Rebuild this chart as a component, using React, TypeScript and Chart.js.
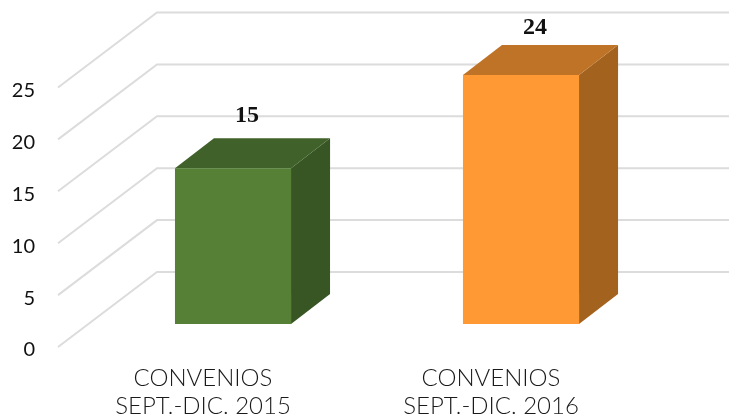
import React, { useEffect, useRef } from "react";
import { Chart, registerables } from "chart.js";

Chart.register(...registerables);

const categories = [
  ["CONVENIOS", "SEPT.-DIC. 2015"],
  ["CONVENIOS", "SEPT.-DIC. 2016"],
];
const convenios = [15, 24];
const frontColors = ["#558035", "#FF9933"];
const topColors = ["#406129", "#BF7326"];
const sideColors = ["#375623", "#A3631F"];
const yTicks = [0, 5, 10, 15, 20, 25];

const labelLift = [24, 18];

const scene3d = {
  id: "scene3d",
  beforeDatasetsDraw(chart: any) {
    const { ctx } = chart;
    const y = chart.scales.y;
    ctx.save();
    ctx.strokeStyle = "#DCDCDC";
    ctx.lineWidth = 2;
    yTicks.forEach((v) => {
      const p = y.getPixelForValue(v);
      ctx.beginPath();
      ctx.moveTo(58, p + 23);
      ctx.lineTo(157, p - 52);
      ctx.lineTo(729, p - 52);
      ctx.stroke();
    });
    const dx = 39;
    const dy = 30;
    chart.getDatasetMeta(0).data.forEach((bar: any, i: number) => {
      const l = bar.x - bar.width / 2;
      const r = bar.x + bar.width / 2;
      const t = bar.y;
      const b = bar.base;
      ctx.fillStyle = sideColors[i];
      ctx.beginPath();
      ctx.moveTo(r, t);
      ctx.lineTo(r + dx, t - dy);
      ctx.lineTo(r + dx, b - dy);
      ctx.lineTo(r, b);
      ctx.closePath();
      ctx.fill();
      ctx.fillStyle = topColors[i];
      ctx.beginPath();
      ctx.moveTo(l, t);
      ctx.lineTo(l + dx, t - dy);
      ctx.lineTo(r + dx, t - dy);
      ctx.lineTo(r, t);
      ctx.closePath();
      ctx.fill();
    });
    ctx.restore();
  },
  afterDatasetsDraw(chart: any) {
    const { ctx } = chart;
    ctx.save();
    ctx.fillStyle = "#111111";
    ctx.font = 'bold 24px "Liberation Serif", "Times New Roman", serif';
    ctx.textAlign = "center";
    ctx.textBaseline = "middle";
    chart.getDatasetMeta(0).data.forEach((bar: any, i: number) => {
      const text = String(convenios[i]);
      const tx = bar.x + 14;
      const ty = bar.y - 30 - labelLift[i] + 1;
      ctx.fillText(text, tx, ty);
    });
    ctx.restore();
  },
};

export default function App() {
  const ref = useRef<HTMLCanvasElement>(null);
  useEffect(() => {
    const chart = new Chart(ref.current as HTMLCanvasElement, {
      type: "bar",
      data: {
        labels: categories,
        datasets: [
          {
            data: convenios,
            backgroundColor: frontColors,
            barPercentage: 0.403,
            categoryPercentage: 1,
          },
        ],
      },
      plugins: [scene3d],
      options: {
        animation: false,
        responsive: false,
        devicePixelRatio: 1,
        layout: { padding: { top: 64.5, right: 64, bottom: 0, left: 0 } },
        plugins: { legend: { display: false }, tooltip: { enabled: false }, title: { display: false } },
        scales: {
          x: {
            grid: { display: false },
            border: { display: false },
            afterFit: (s: any) => {
              s.height = 94;
            },
            ticks: {
              autoSkip: false,
              maxRotation: 0,
              padding: 32,
              labelOffset: -30,
              color: "#1A1A1A",
              font: { family: "Lato", size: 24, weight: "300", lineHeight: 1.17 },
            },
          },
          y: {
            min: 0,
            max: 25,
            grid: { display: false },
            border: { display: false },
            afterFit: (s: any) => {
              s.width = 89;
            },
            ticks: {
              stepSize: 5,
              padding: 46,
              labelOffset: 26,
              color: "#111111",
              font: { family: "Lato", size: 20 },
            },
          },
        },
      },
    } as any);
    return () => chart.destroy();
  }, []);
  return (
    <canvas
      ref={ref}
      width={729}
      height={418}
      style={{ position: "absolute", left: 0, top: 0, width: 729, height: 418, display: "block" }}
    />
  );
}
